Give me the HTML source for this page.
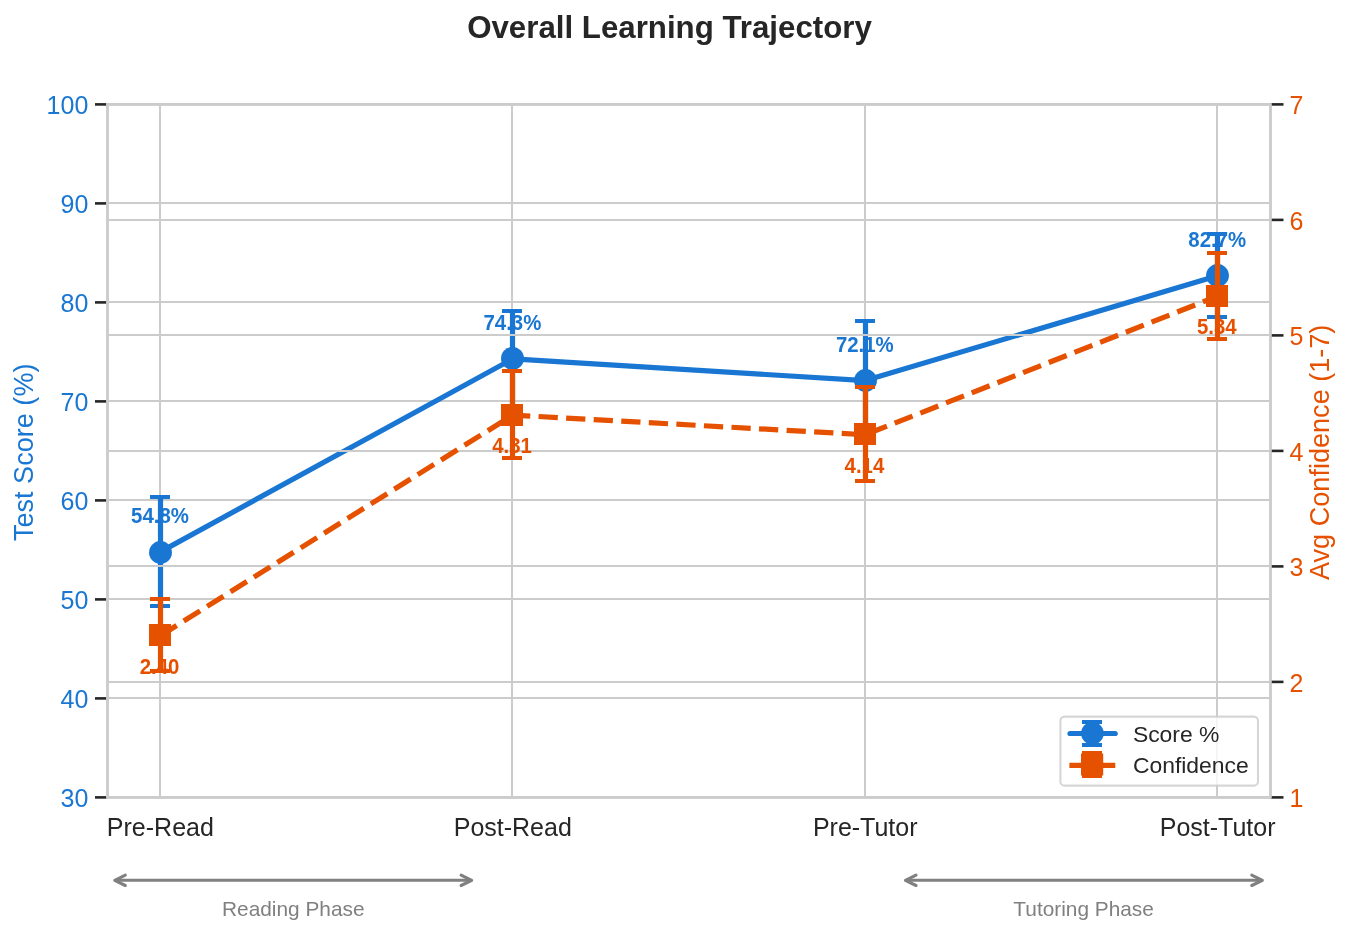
<!DOCTYPE html>
<html lang="en"><head><meta charset="utf-8"><title>Overall Learning Trajectory</title>
<style>html,body{margin:0;padding:0;background:#fff;}body{width:1350px;height:934px;overflow:hidden;}svg{display:block;}text{font-family:"Liberation Sans",sans-serif;}</style></head><body>
<svg width="1350" height="934" viewBox="0 0 1350 934">
<rect x="0" y="0" width="1350" height="934" fill="#ffffff"/>
<g fill="#cccccc" shape-rendering="crispEdges">
<rect x="159" y="104.40" width="2" height="693.00"/>
<rect x="511" y="104.40" width="2" height="693.00"/>
<rect x="864" y="104.40" width="2" height="693.00"/>
<rect x="1216" y="104.40" width="2" height="693.00"/>
<rect x="107.50" y="796" width="1163.00" height="2"/>
<rect x="107.50" y="697" width="1163.00" height="2"/>
<rect x="107.50" y="598" width="1163.00" height="2"/>
<rect x="107.50" y="499" width="1163.00" height="2"/>
<rect x="107.50" y="400" width="1163.00" height="2"/>
<rect x="107.50" y="301" width="1163.00" height="2"/>
<rect x="107.50" y="202" width="1163.00" height="2"/>
<rect x="107.50" y="103" width="1163.00" height="2"/>
</g>
<g stroke="#262626" stroke-width="2.6" fill="none">
<line x1="95.00" y1="797.40" x2="107.50" y2="797.40"/>
<line x1="95.00" y1="698.40" x2="107.50" y2="698.40"/>
<line x1="95.00" y1="599.40" x2="107.50" y2="599.40"/>
<line x1="95.00" y1="500.40" x2="107.50" y2="500.40"/>
<line x1="95.00" y1="401.40" x2="107.50" y2="401.40"/>
<line x1="95.00" y1="302.40" x2="107.50" y2="302.40"/>
<line x1="95.00" y1="203.40" x2="107.50" y2="203.40"/>
<line x1="95.00" y1="104.40" x2="107.50" y2="104.40"/>
</g>
<g id="score">
<text transform="translate(159.96,522.78) scale(0.98,1.06)" font-size="20.83" font-weight="bold" fill="#1976d2" text-anchor="middle">54.8%</text>
<text transform="translate(512.39,329.73) scale(0.98,1.06)" font-size="20.83" font-weight="bold" fill="#1976d2" text-anchor="middle">74.3%</text>
<text transform="translate(864.81,351.51) scale(0.98,1.06)" font-size="20.83" font-weight="bold" fill="#1976d2" text-anchor="middle">72.1%</text>
<text transform="translate(1217.24,246.57) scale(0.98,1.06)" font-size="20.83" font-weight="bold" fill="#1976d2" text-anchor="middle">82.7%</text>
<polyline points="160.36,551.88 512.79,358.83 865.21,380.61 1217.64,275.67" fill="none" stroke="#1976d2" stroke-width="5.2" stroke-linejoin="round" stroke-linecap="round"/>
<line x1="160.50" y1="497.43" x2="160.50" y2="606.33" stroke="#1976d2" stroke-width="5.2"/>
<rect x="150.00" y="495.00" width="20" height="4" fill="#1976d2"/>
<rect x="150.00" y="604.00" width="20" height="4" fill="#1976d2"/>
<line x1="512.50" y1="311.53" x2="512.50" y2="406.13" stroke="#1976d2" stroke-width="5.2"/>
<rect x="502.00" y="309.00" width="20" height="4" fill="#1976d2"/>
<rect x="502.00" y="404.00" width="20" height="4" fill="#1976d2"/>
<line x1="865.50" y1="321.51" x2="865.50" y2="439.71" stroke="#1976d2" stroke-width="5.2"/>
<rect x="855.00" y="319.00" width="20" height="4" fill="#1976d2"/>
<rect x="855.00" y="437.00" width="20" height="4" fill="#1976d2"/>
<line x1="1217.50" y1="234.17" x2="1217.50" y2="317.17" stroke="#1976d2" stroke-width="5.2"/>
<rect x="1207.00" y="232.00" width="20" height="4" fill="#1976d2"/>
<rect x="1207.00" y="315.00" width="20" height="4" fill="#1976d2"/>
<circle cx="160.50" cy="552.50" r="11.45" fill="#1976d2"/>
<circle cx="512.50" cy="358.40" r="11.45" fill="#1976d2"/>
<circle cx="865.50" cy="380.50" r="11.45" fill="#1976d2"/>
<circle cx="1217.50" cy="275.50" r="11.45" fill="#1976d2"/>
</g>
<rect x="107.50" y="104.40" width="1163.00" height="693.00" fill="none" stroke="#cccccc" stroke-width="2.6"/>
<g fill="#cccccc" shape-rendering="crispEdges">
<rect x="107.50" y="796" width="1163.00" height="2"/>
<rect x="107.50" y="681" width="1163.00" height="2"/>
<rect x="107.50" y="565" width="1163.00" height="2"/>
<rect x="107.50" y="450" width="1163.00" height="2"/>
<rect x="107.50" y="334" width="1163.00" height="2"/>
<rect x="107.50" y="219" width="1163.00" height="2"/>
<rect x="107.50" y="103" width="1163.00" height="2"/>
</g>
<g stroke="#262626" stroke-width="2.6" fill="none">
<line x1="1270.50" y1="797.40" x2="1283.50" y2="797.40"/>
<line x1="1270.50" y1="681.90" x2="1283.50" y2="681.90"/>
<line x1="1270.50" y1="566.40" x2="1283.50" y2="566.40"/>
<line x1="1270.50" y1="450.90" x2="1283.50" y2="450.90"/>
<line x1="1270.50" y1="335.40" x2="1283.50" y2="335.40"/>
<line x1="1270.50" y1="219.90" x2="1283.50" y2="219.90"/>
<line x1="1270.50" y1="104.40" x2="1283.50" y2="104.40"/>
</g>
<g id="conf">
<text transform="translate(159.56,673.50) scale(0.98,1.06)" font-size="20.83" font-weight="bold" fill="#e65100" text-anchor="middle">2.40</text>
<text transform="translate(511.99,452.89) scale(0.98,1.06)" font-size="20.83" font-weight="bold" fill="#e65100" text-anchor="middle">4.31</text>
<text transform="translate(864.41,472.53) scale(0.98,1.06)" font-size="20.83" font-weight="bold" fill="#e65100" text-anchor="middle">4.14</text>
<text transform="translate(1216.84,333.93) scale(0.98,1.06)" font-size="20.83" font-weight="bold" fill="#e65100" text-anchor="middle">5.34</text>
<polyline points="160.36,635.70 512.79,415.09 865.21,434.73 1217.64,296.13" fill="none" stroke="#e65100" stroke-width="5.2" stroke-dasharray="19.27 8.33" stroke-linejoin="round"/>
<line x1="160.50" y1="599.70" x2="160.50" y2="671.70" stroke="#e65100" stroke-width="5.2"/>
<rect x="150.00" y="597.00" width="20" height="4" fill="#e65100"/>
<rect x="150.00" y="669.00" width="20" height="4" fill="#e65100"/>
<line x1="512.50" y1="371.59" x2="512.50" y2="458.59" stroke="#e65100" stroke-width="5.2"/>
<rect x="502.00" y="369.00" width="20" height="4" fill="#e65100"/>
<rect x="502.00" y="456.00" width="20" height="4" fill="#e65100"/>
<line x1="865.50" y1="387.73" x2="865.50" y2="481.73" stroke="#e65100" stroke-width="5.2"/>
<rect x="855.00" y="385.00" width="20" height="4" fill="#e65100"/>
<rect x="855.00" y="479.00" width="20" height="4" fill="#e65100"/>
<line x1="1217.50" y1="253.13" x2="1217.50" y2="339.13" stroke="#e65100" stroke-width="5.2"/>
<rect x="1207.00" y="251.00" width="20" height="4" fill="#e65100"/>
<rect x="1207.00" y="337.00" width="20" height="4" fill="#e65100"/>
<rect x="149" y="624" width="22" height="22" fill="#e65100"/>
<rect x="501" y="404" width="22" height="22" fill="#e65100"/>
<rect x="854" y="423" width="22" height="22" fill="#e65100"/>
<rect x="1206" y="285" width="22" height="22" fill="#e65100"/>
</g>
<rect x="107.50" y="104.40" width="1163.00" height="693.00" fill="none" stroke="#cccccc" stroke-width="2.6"/>
<g font-size="25" fill="#1976d2" text-anchor="end">
<text x="88.3" y="807.40">30</text>
<text x="88.3" y="708.40">40</text>
<text x="88.3" y="609.40">50</text>
<text x="88.3" y="510.40">60</text>
<text x="88.3" y="411.40">70</text>
<text x="88.3" y="312.40">80</text>
<text x="88.3" y="213.40">90</text>
<text x="88.3" y="114.40">100</text>
</g>
<g font-size="25" fill="#e65100" text-anchor="start">
<text x="1289.5" y="807.40">1</text>
<text x="1289.5" y="691.90">2</text>
<text x="1289.5" y="576.40">3</text>
<text x="1289.5" y="460.90">4</text>
<text x="1289.5" y="345.40">5</text>
<text x="1289.5" y="229.90">6</text>
<text x="1289.5" y="114.40">7</text>
</g>
<g font-size="25" fill="#262626" text-anchor="middle">
<text x="160.36" y="836">Pre-Read</text>
<text x="512.79" y="836">Post-Read</text>
<text x="865.21" y="836">Pre-Tutor</text>
<text x="1217.64" y="836">Post-Tutor</text>
</g>
<text transform="translate(33.2,452.3) rotate(-90)" font-size="27.08" fill="#1976d2" text-anchor="middle">Test Score (%)</text>
<text transform="translate(1329,452.3) rotate(-90)" font-size="27.08" fill="#e65100" text-anchor="middle">Avg Confidence (1-7)</text>
<text x="669.5" y="37.8" font-size="31.25" font-weight="bold" fill="#262626" text-anchor="middle">Overall Learning Trajectory</text>
<g stroke="#808080" stroke-width="3.1" fill="none" stroke-linecap="round" stroke-linejoin="round">
<line x1="115.20" y1="880.30" x2="471.20" y2="880.30" stroke-linecap="butt"/>
<polyline points="125.30,875.10 114.75,880.30 125.30,885.50"/>
<polyline points="461.10,875.10 471.65,880.30 461.10,885.50"/>
</g>
<g stroke="#808080" stroke-width="3.1" fill="none" stroke-linecap="round" stroke-linejoin="round">
<line x1="905.90" y1="880.30" x2="1261.90" y2="880.30" stroke-linecap="butt"/>
<polyline points="916.00,875.10 905.45,880.30 916.00,885.50"/>
<polyline points="1251.80,875.10 1262.35,880.30 1251.80,885.50"/>
</g>
<g font-size="20.83" fill="#808080" text-anchor="middle">
<text x="293.3" y="915.9">Reading Phase</text>
<text x="1083.6" y="915.9">Tutoring Phase</text>
</g>
<g id="legend">
<rect x="1060.4" y="716.6" width="197.6" height="69" rx="4.2" ry="4.2" fill="#ffffff" fill-opacity="0.8" stroke="#cccccc" stroke-opacity="0.8" stroke-width="2.08"/>
<line x1="1070" y1="733.5" x2="1115.2" y2="733.5" stroke="#1976d2" stroke-width="5.2" stroke-linecap="round"/>
<rect x="1082" y="720" width="20" height="4" fill="#1976d2"/>
<rect x="1082" y="743" width="20" height="4" fill="#1976d2"/>
<rect x="1089.9" y="722" width="5.2" height="23" fill="#1976d2"/>
<circle cx="1092.4" cy="733.3" r="11.3" fill="#1976d2"/>
<line x1="1069.4" y1="765.4" x2="1115.3" y2="765.4" stroke="#e65100" stroke-width="5.2" stroke-dasharray="19.27 8.33"/>
<rect x="1082" y="751" width="20" height="4" fill="#e65100"/>
<rect x="1082" y="774" width="20" height="4" fill="#e65100"/>
<rect x="1081" y="753.5" width="22.2" height="22" fill="#e65100"/>
<g font-size="22.9" fill="#262626">
<text x="1132.9" y="742.1">Score %</text>
<text x="1132.9" y="772.9">Confidence</text>
</g></g>
</svg></body></html>
